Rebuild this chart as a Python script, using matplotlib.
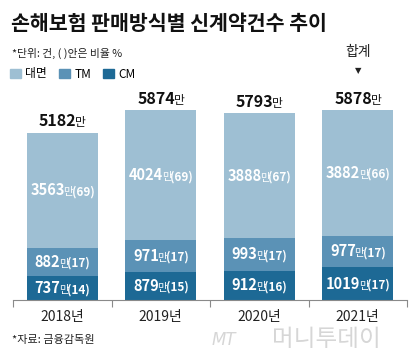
import matplotlib
matplotlib.use("Agg")
import matplotlib.pyplot as plt
from matplotlib.patches import Patch
from matplotlib.offsetbox import TextArea, HPacker, AnnotationBbox

plt.rcParams['font.family'] = ['Noto Sans CJK KR', 'DejaVu Sans']

# Data (만 건)
years = ["2018년", "2019년", "2020년", "2021년"]
face = [3563, 4024, 3888, 3882]      # 대면
tm = [882, 971, 993, 977]            # TM
cm = [737, 879, 912, 1019]           # CM
face_pct = [69, 69, 67, 66]
tm_pct = [17, 17, 17, 17]
cm_pct = [14, 15, 16, 17]
totals = [5182, 5874, 5793, 5878]

c_face = "#9ebfd3"
c_tm = "#5b92b6"
c_cm = "#1d6995"

fig = plt.figure(figsize=(4.2, 3.6), dpi=100)
ax = fig.add_axes([13 / 420, 60 / 360, 394 / 420, 210 / 360])

x = list(range(len(years)))
w = 0.72
bottom_tm = cm
bottom_face = [a + b for a, b in zip(cm, tm)]
ax.bar(x, cm, w, color=c_cm)
ax.bar(x, tm, w, bottom=bottom_tm, color=c_tm)
ax.bar(x, face, w, bottom=bottom_face, color=c_face)

ax.set_xlim(-0.5, 3.5)
ax.set_ylim(0, 6500)
for s in ["top", "right", "left"]:
    ax.spines[s].set_visible(False)
ax.spines["bottom"].set_color("#8a8a8a")
ax.spines["bottom"].set_linewidth(0.8)
ax.set_yticks([])
ax.set_xticks([-0.5, 0.5, 1.5, 2.5, 3.5])
ax.set_xticklabels([])
ax.tick_params(axis="x", direction="out", length=5, color="#8a8a8a", width=0.8)


def rich(xp, yp, parts, color, dy=0):
    boxes = [TextArea(s, textprops=dict(color=color, fontsize=fs, fontweight=fw))
             for s, fs, fw in parts]
    pack = HPacker(children=boxes, align="baseline", pad=0, sep=-1)
    ab = AnnotationBbox(pack, (xp, yp), xycoords="data", xybox=(0, dy),
                        boxcoords="offset points", frameon=False,
                        box_alignment=(0.5, 0.5), pad=0)
    ax.add_artist(ab)


for i in x:
    rich(i, cm[i] / 2, [(str(cm[i]), 10.5, "bold"), ("만", 7.5, "normal"),
                        ("(%d)" % cm_pct[i], 8.5, "bold")], "white")
    rich(i, bottom_tm[i] + tm[i] / 2, [(str(tm[i]), 10.5, "bold"), ("만", 7.5, "normal"),
                                       ("(%d)" % tm_pct[i], 8.5, "bold")], "white")
    rich(i, bottom_face[i] + face[i] / 2, [(str(face[i]), 10.5, "bold"), ("만", 7.5, "normal"),
                                           ("(%d)" % face_pct[i], 8.5, "bold")], "white")
    rich(i, totals[i], [(str(totals[i]), 11.5, "bold"), ("만", 8.5, "normal")], "#111111", dy=8)
    ax.annotate(years[i], (i, 0), xytext=(0, -17), textcoords="offset pixels",
                ha="center", va="center", fontsize=10, color="#222222")

# 합계 marker
ax.annotate("합계", (3, totals[3]), xytext=(0, 58), textcoords="offset pixels",
            ha="center", va="center", fontsize=10, color="#222222")
ax.annotate("▼", (3, totals[3]), xytext=(0, 40), textcoords="offset pixels",
            ha="center", va="center", fontsize=6, color="#222222",
            family=["DejaVu Sans"])

fig.text(11 / 420, 1 - 24 / 360, "손해보험 판매방식별 신계약건수 추이", fontsize=14.8,
         fontweight="black", color="#111111", va="center", ha="left")
fig.text(12 / 420, 1 - 53 / 360, "*단위: 건, ( )안은 비율 %", fontsize=7.8,
         color="#222222", va="center", ha="left")

handles = [Patch(color=c_face, label="대면"), Patch(color=c_tm, label="TM"),
           Patch(color=c_cm, label="CM")]
fig.legend(handles=handles, loc="center left", bbox_to_anchor=(10 / 420, 1 - 74 / 360),
           ncol=3, frameon=False, fontsize=8.5, handlelength=0.9, handleheight=0.9,
           handletextpad=0.4, columnspacing=1.0, borderpad=0, borderaxespad=0)

fig.text(12 / 420, 1 - 340 / 360, "*자료: 금융감독원", fontsize=8,
         color="#222222", va="center", ha="left")
fig.text(212 / 420, 1 - 340 / 360, "MT", fontsize=12, style="italic",
         color="#d6d6d6", va="center", ha="left", family=["DejaVu Sans"])
fig.text(272 / 420, 1 - 340 / 360, "머니투데이", fontsize=17,
         color="#d6d6d6", va="center", ha="left")

fig.savefig("out.png", dpi=100)
